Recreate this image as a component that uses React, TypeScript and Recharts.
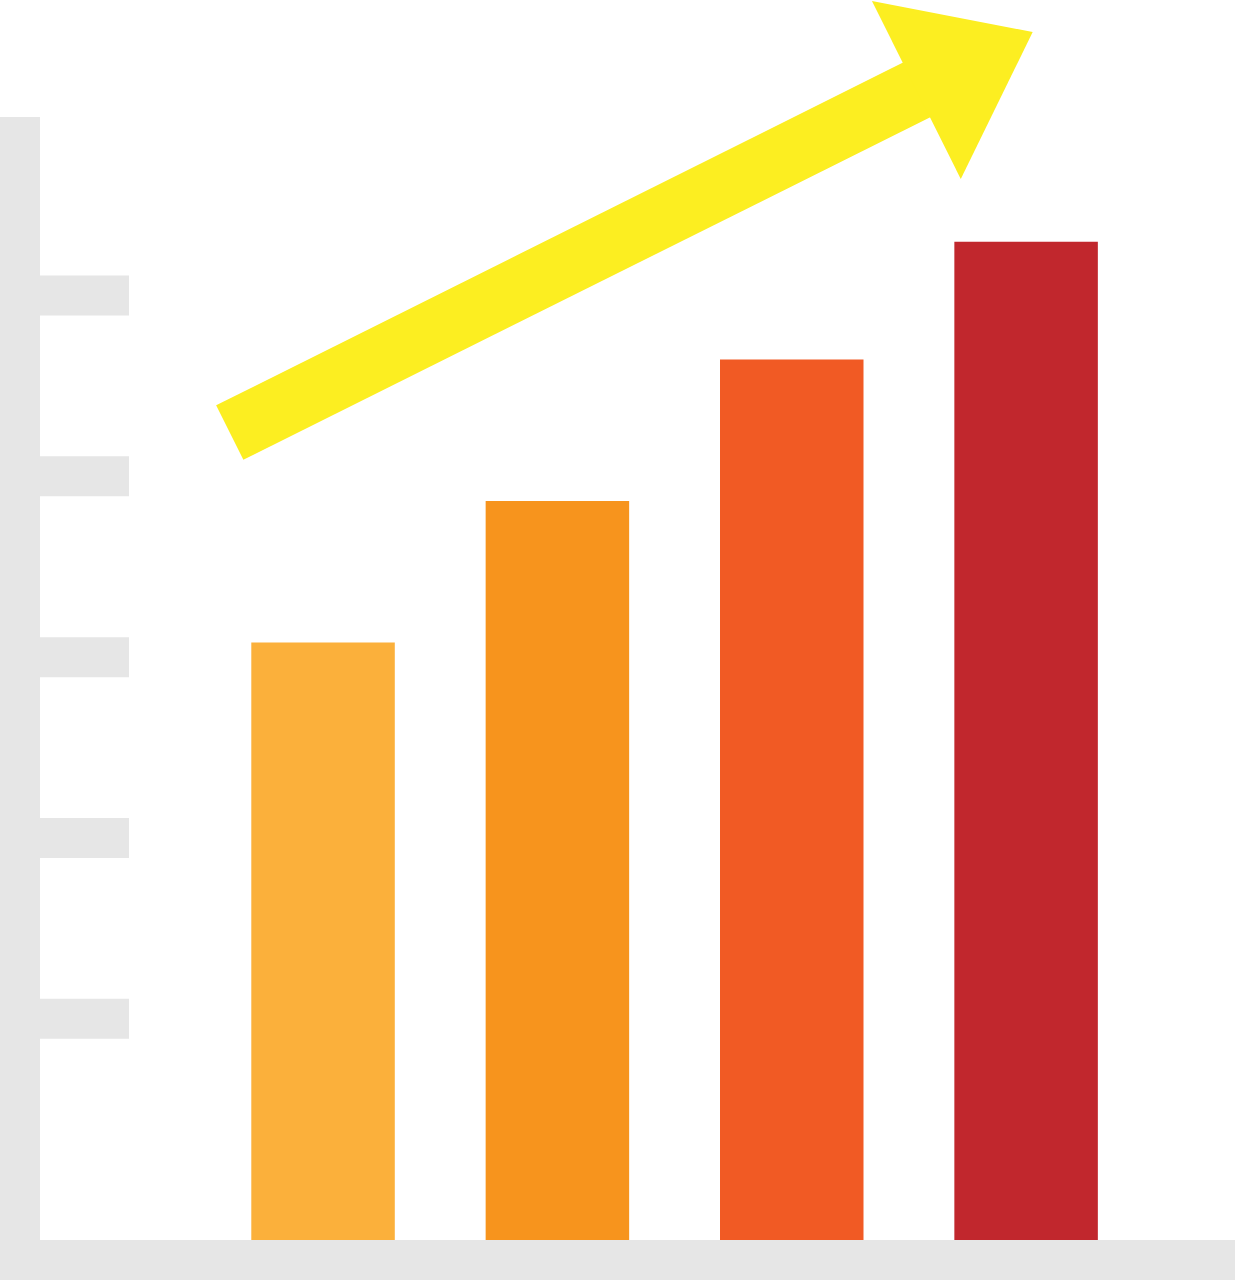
import { ComposedChart, Bar, Cell, XAxis, YAxis, ReferenceLine } from "recharts";

const CATEGORIAS = ["A", "B", "C", "D"];
const VALORES = [53.2, 65.8, 78.4, 88.9];
const CORES = ["#FBB03B", "#F7941D", "#F15A24", "#C1272D"];
const TICKS_Y = [19.7, 35.8, 51.9, 68.0, 84.1];
// seta de tendência: x em posição de categoria (0..3), y nas mesmas unidades das barras
const SETA_X = [-0.4, 2.53];
const SETA_Y = [71.9, 102.4];

const CINZA = "#E6E6E6";
const AMARELO = "#FCEE21";

const dados = CATEGORIAS.map((c, i) => ({ categoria: c, valor: VALORES[i] }));
const PADDING_X = { left: 186.3, right: 91.3 };
// eixo numérico auxiliar: 0..3 cai nos centros das categorias
const PADDING_SETA = { left: 303.5, right: 208.5 };

/** Seta desenhada sobre o segmento da ReferenceLine: haste + ponta triangular. */
function Seta(props: any) {
  const { x1, y1, x2, y2 } = props;
  const dx = x2 - x1;
  const dy = y2 - y1;
  const len = Math.hypot(dx, dy);
  const ux = dx / len;
  const uy = dy / len;
  const nx = -uy;
  const ny = ux;
  const compPonta = 130;
  const meiaBase = 99.5;
  const ponta = `${x2 - nx * meiaBase},${y2 - ny * meiaBase} ${x2 + ux * compPonta},${y2 + uy * compPonta} ${x2 + nx * meiaBase},${y2 + ny * meiaBase}`;
  return (
    <g>
      <line x1={x1} y1={y1} x2={x2 + ux * 2} y2={y2 + uy * 2} stroke={AMARELO} strokeWidth={61} />
      <polygon points={ponta} fill={AMARELO} />
    </g>
  );
}

export default function App() {
  return (
    <div>
      <style>{"body{margin:0;overflow:hidden} svg{display:block}"}</style>
      <ComposedChart
        width={1235}
        height={1280}
        data={dados}
        margin={{ top: 117, right: 0, left: 20, bottom: 0 }}
      >
        <XAxis
          dataKey="categoria"
          height={20}
          padding={PADDING_X}
          tick={false}
          tickLine={false}
          axisLine={{ stroke: CINZA, strokeWidth: 40, strokeLinecap: "square" }}
        />
        <XAxis
          xAxisId="seta"
          type="number"
          domain={[0, 3]}
          allowDataOverflow
          padding={PADDING_SETA}
          hide
        />
        <YAxis
          type="number"
          domain={[-1.781, 100]}
          allowDataOverflow
          ticks={TICKS_Y}
          mirror
          tickFormatter={() => ""}
          tickSize={109}
          tickLine={{ stroke: CINZA, strokeWidth: 40 }}
          axisLine={{ stroke: CINZA, strokeWidth: 40 }}
        />
        <Bar dataKey="valor" barSize={143.5} isAnimationActive={false}>
          {dados.map((d, i) => (
            <Cell key={d.categoria} fill={CORES[i]} />
          ))}
        </Bar>
        <ReferenceLine
          xAxisId="seta"
          segment={[
            { x: SETA_X[0], y: SETA_Y[0] },
            { x: SETA_X[1], y: SETA_Y[1] },
          ]}
          ifOverflow="visible"
          shape={Seta}
        />
      </ComposedChart>
    </div>
  );
}
